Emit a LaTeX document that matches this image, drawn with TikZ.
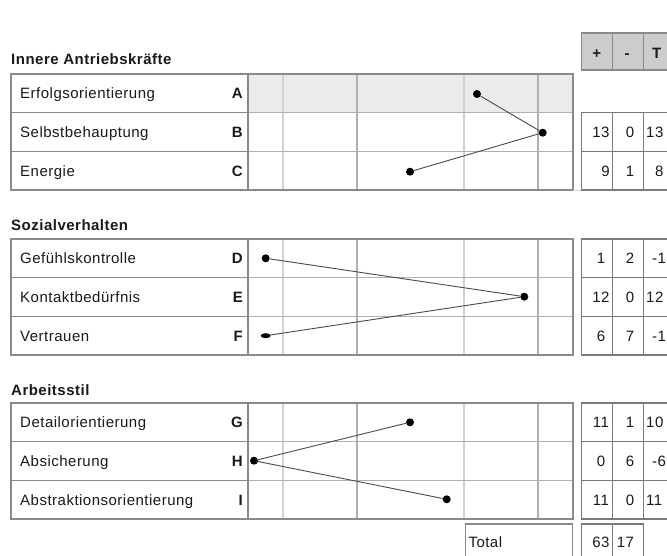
\documentclass[tikz,border=0pt]{standalone}
\usepackage{fontspec}
\setmainfont{Liberation Sans}[LetterSpace=3.3]
\usetikzlibrary{shapes.geometric}
\definecolor{bordc}{HTML}{8A8A8A}
\definecolor{lightc}{HTML}{D2D2D2}
\definecolor{midc}{HTML}{B0B0B0}
\definecolor{scorec}{HTML}{7A7A7A}
\definecolor{headf}{HTML}{CCCCCC}
\definecolor{rowaf}{HTML}{EBEBEB}
\definecolor{linkc}{HTML}{4A4A4A}
\definecolor{txtc}{HTML}{1A1A1A}
\begin{document}
\begin{tikzpicture}[x=1pt,y=-1pt,
  every node/.style={font=\fontsize{15}{17}\selectfont, inner sep=0pt, text=txtc},
  lab/.style={anchor=base west},
  letter/.style={anchor=base east, font=\fontsize{15}{17}\selectfont\bfseries},
  head/.style={anchor=base west, font=\fontsize{15}{17}\selectfont\bfseries},
  colhead/.style={anchor=base, font=\fontsize{15}{17}\selectfont\bfseries},
  num/.style={anchor=base},
  numw/.style={anchor=base west},
  dot/.style={circle, fill=black, minimum size=8pt},
  flatdot/.style={ellipse, fill=black, minimum width=10pt, minimum height=5pt},
  link/.style={draw=linkc, line width=0.9pt},
  outer/.style={draw=bordc, line width=1.4pt},
  inlight/.style={draw=lightc, line width=1.8pt},
  inmid/.style={draw=midc, line width=1.1pt},
  score/.style={draw=scorec, line width=1.3pt}]
\useasboundingbox (0,0) rectangle (667,556);
\clip (0,0) rectangle (667,556);
\fill[white] (0,0) rectangle (667,556);

% shaded row A
\fill[rowaf] (248,74) rectangle (573,112.7);

% chart tables
\foreach \t in {74,239,403}{
  \draw[inlight] (283,\t) -- (283,{\t+116.1});
  \draw[inlight] (464,\t) -- (464,{\t+116.1});
  \draw[inmid] (357,\t) -- (357,{\t+116.1});
  \draw[inmid] (538,\t) -- (538,{\t+116.1});
  \draw[inmid] (248,{\t+38.7}) -- (573,{\t+38.7});
  \draw[inmid] (248,{\t+77.4}) -- (573,{\t+77.4});
  \draw[outer] (11,{\t+38.7}) -- (248,{\t+38.7});
  \draw[outer] (11,{\t+77.4}) -- (248,{\t+77.4});
  \draw[outer] (248,\t) -- (248,{\t+116.1});
  \draw[outer] (11,\t) rectangle (573,{\t+116.1});
}
\draw[lightc, line width=1pt] (573,190.1) -- (581.3,190.1);

% header box
\filldraw[fill=headf, score, draw=bordc] (581.3,33) rectangle (674.3,70);
\draw[score, draw=bordc] (612.3,33) -- (612.3,70) (643.3,33) -- (643.3,70);
\node[colhead] (hp) at (596.7,58.7) {+};
\node[colhead] (hm) at (627,58.7) {-};
\node[colhead] (ht) at (656.7,58.7) {T};

% score tables
\draw[score] (581.3,112.7) rectangle (674.3,190.1);
\draw[score] (612.3,112.7) -- (612.3,190.1) (643.3,112.7) -- (643.3,190.1) (581.3,151.4) -- (674.3,151.4);
\foreach \t in {239,403}{
  \draw[score] (581.3,\t) rectangle (674.3,{\t+116.1});
  \draw[score] (612.3,\t) -- (612.3,{\t+116.1}) (643.3,\t) -- (643.3,{\t+116.1});
  \draw[score] (581.3,{\t+38.7}) -- (674.3,{\t+38.7}) (581.3,{\t+77.4}) -- (674.3,{\t+77.4});
}
% total boxes
\draw[outer] (465.7,524) rectangle (572.7,580);
\draw[score] (581.3,524) rectangle (643.3,580);
\draw[score] (612.3,524) -- (612.3,580);

% headings
\node[head] (h1) at (11,65) {Innere Antriebskräfte};
\node[head] (h2) at (11,230.7) {Sozialverhalten};
\node[head] (h3) at (11,395.7) {Arbeitsstil};

% row labels
\node[lab] (lA) at (20,98.9) {Erfolgsorientierung};
\node[lab] (lB) at (20,137.6) {Selbstbehauptung};
\node[lab] (lC) at (20,176.3) {Energie};
\node[lab] (lD) at (20,263.9) {Gefühlskontrolle};
\node[lab] (lE) at (20,302.6) {Kontaktbedürfnis};
\node[lab] (lF) at (20,341.3) {Vertrauen};
\node[lab] (lG) at (20,427.9) {Detailorientierung};
\node[lab] (lH) at (20,466.6) {Absicherung};
\node[lab] (lI) at (20,505.3) {Abstraktionsorientierung};

\node[letter] (kA) at (243,98.9) {A};
\node[letter] (kB) at (243,137.6) {B};
\node[letter] (kC) at (243,176.3) {C};
\node[letter] (kD) at (243,263.9) {D};
\node[letter] (kE) at (243,302.6) {E};
\node[letter] (kF) at (243,341.3) {F};
\node[letter] (kG) at (243,427.9) {G};
\node[letter] (kH) at (243,466.6) {H};
\node[letter] (kI) at (243,505.3) {I};

% dots
\node[dot] (dA) at (477,94) {};
\node[dot] (dB) at (542.7,132.7) {};
\node[dot] (dC) at (410,171.7) {};
\node[dot] (dD) at (265.7,258.3) {};
\node[dot] (dE) at (524.3,296.7) {};
\node[flatdot] (dF) at (265.7,335.7) {};
\node[dot] (dG) at (410,422.3) {};
\node[dot] (dH) at (254,460.7) {};
\node[dot] (dI) at (446.7,499.3) {};
\draw[link] (dA) -- (dB);
\draw[link] (dB) -- (dC);
\draw[link] (dD) -- (dE);
\draw[link] (dE) -- (dF);
\draw[link] (dG) -- (dH);
\draw[link] (dH) -- (dI);

% scores
\node[num] (sB1) at (601,137.6) {13};
\node[num] (sB2) at (630,137.6) {0};
\node[numw] (sB3) at (646,137.6) {13};
\node[num] (sC1) at (605.5,176.3) {9};
\node[num] (sC2) at (630,176.3) {1};
\node[numw] (sC3) at (655,176.3) {8};
\node[num] (sD1) at (601,263.9) {1};
\node[num] (sD2) at (630,263.9) {2};
\node[numw] (sD3) at (652,263.9) {-1};
\node[num] (sE1) at (601,302.6) {12};
\node[num] (sE2) at (630,302.6) {0};
\node[numw] (sE3) at (646,302.6) {12};
\node[num] (sF1) at (601,341.3) {6};
\node[num] (sF2) at (630,341.3) {7};
\node[numw] (sF3) at (652,341.3) {-1};
\node[num] (sG1) at (601,427.9) {11};
\node[num] (sG2) at (630,427.9) {1};
\node[numw] (sG3) at (646,427.9) {10};
\node[num] (sH1) at (601,466.6) {0};
\node[num] (sH2) at (630,466.6) {6};
\node[numw] (sH3) at (652,466.6) {-6};
\node[num] (sI1) at (601,505.3) {11};
\node[num] (sI2) at (630,505.3) {0};
\node[numw] (sI3) at (646,505.3) {11};
\node[lab] (tot) at (468.3,547.5) {Total};
\node[num] (t1) at (601,547.5) {63};
\node[num] (t2) at (625.5,547.5) {17};
\end{tikzpicture}
\end{document}
